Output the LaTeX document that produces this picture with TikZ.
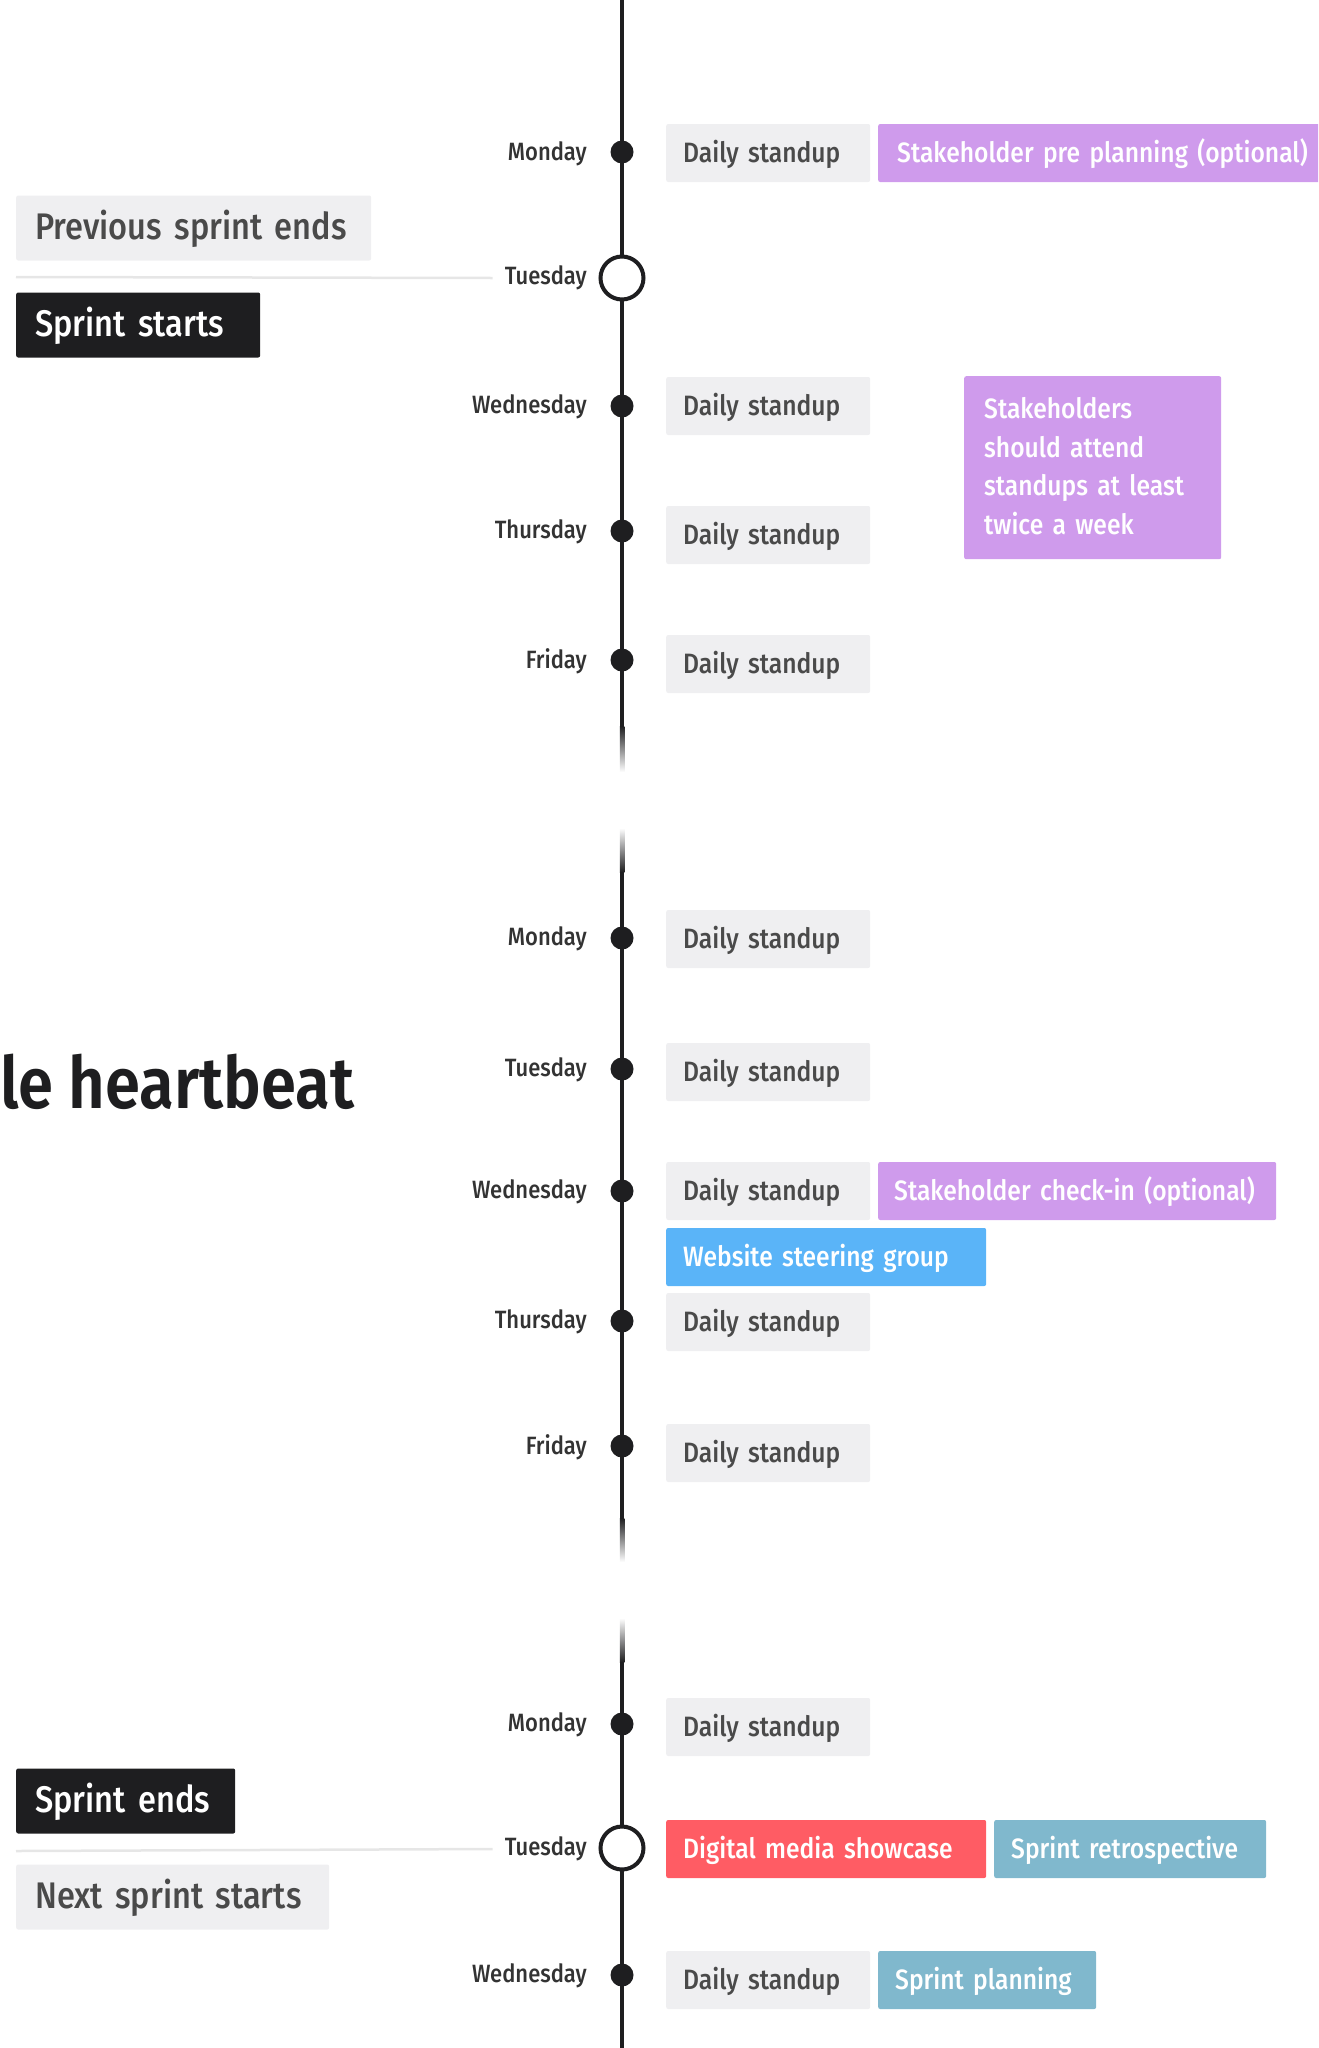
\documentclass[tikz,border=0pt]{standalone}
\usepackage{fontspec}
\setmainfont{Fira Sans}[FakeStretch=0.88, UprightFont={* Medium}, BoldFont={* SemiBold}]
\definecolor{boxgray}{HTML}{EFEFF1}
\definecolor{txtgray}{HTML}{4A4A4A}
\definecolor{daytxt}{HTML}{333333}
\definecolor{purp}{HTML}{CF9BEC}
\definecolor{skyb}{HTML}{5AB4F8}
\definecolor{redc}{HTML}{FF5C64}
\definecolor{retro}{HTML}{80B8CD}
\definecolor{ink}{HTML}{1E1E20}
\definecolor{sepgray}{HTML}{E6E6E6}
\begin{document}
\begin{tikzpicture}[x=1pt,y=-1pt,
  evbox/.style={anchor=west, rounded corners=2pt, minimum height=58pt, inner xsep=17pt, inner ysep=0pt,
    font=\fontsize{28}{32}\selectfont, text height=22pt, text depth=4pt, align=left},
  standup/.style={evbox, fill=boxgray, text=txtgray, text width=170pt},
  purpbox/.style={evbox, fill=purp, text=white},
  bluebox/.style={evbox, fill=skyb, text=white},
  redbox/.style={evbox, fill=redc, text=white},
  retrobox/.style={evbox, fill=retro, text=white},
  bigbox/.style={anchor=west, rounded corners=2pt, minimum height=65pt, inner xsep=19pt, inner ysep=0pt,
    font=\fontsize{37}{42}\selectfont, text height=29pt, text depth=6pt, align=left},
  lightbig/.style={bigbox, fill=boxgray, text=txtgray},
  darkbig/.style={bigbox, fill=ink, text=white},
  daylabel/.style={anchor=east, font=\fontsize{25}{28}\selectfont, text=daytxt, inner sep=0pt},
  dayDot/.style={circle, fill=ink, minimum size=23pt, inner sep=0pt},
  sprintDot/.style={circle, fill=white, draw=ink, line width=4pt, minimum size=43pt, inner sep=0pt},
  sepline/.style={draw=sepgray, line width=2.5pt},
  tline/.style={line width=4.5pt, draw=ink}
]
\useasboundingbox (0,0) rectangle (1318,2048);
\clip (0,0) rectangle (1318,2048);

% timeline segments
\draw[tline] (622,0) -- (622,726);
\shade[top color=ink, bottom color=white] (619.75,726) rectangle (624.25,772);
\shade[top color=white, bottom color=ink] (619.75,828) rectangle (624.25,872);
\draw[tline] (622,872) -- (622,1518);
\shade[top color=ink, bottom color=white] (619.75,1518) rectangle (624.25,1562);
\shade[top color=white, bottom color=ink] (619.75,1618) rectangle (624.25,1662);
\draw[tline] (622,1662) -- (622,2048);

% ---- week 1
\node[dayDot] (w1mon) at (622,152) {};
\node[sprintDot] (w1tue) at (622,278) {};
\node[dayDot] (w1wed) at (622,406) {};
\node[dayDot] (w1thu) at (622,531) {};
\node[dayDot] (w1fri) at (622,660) {};
\node[daylabel] (l1mon) at (587,154) {Monday};
\node[daylabel] (l1tue) at (587,278) {Tuesday};
\node[daylabel] (l1wed) at (587,407) {Wednesday};
\node[daylabel] (l1thu) at (587,532) {Thursday};
\node[daylabel] (l1fri) at (587,661) {Friday};

\node[standup] (s1mon) at (666,153) {Daily standup};
\node[purpbox, text width=432pt, inner xsep=19pt] (prepl) at (878,153) {\mbox{Stakeholder pre planning (optional)}};
\node[standup] (s1wed) at (666,406) {Daily standup};
\node[standup] (s1thu) at (666,535) {Daily standup};
\node[standup] (s1fri) at (666,664) {Daily standup};
\node[anchor=north west, fill=purp, text=white, rounded corners=2pt, inner xsep=20pt, inner ysep=0pt,
  minimum height=183pt, text width=217pt, align=left, font=\fontsize{28}{38.5}\selectfont]
  (attend) at (964,376) {Stakeholders\\should attend\\standups at least\\twice a week\vspace{3pt}};

\node[lightbig, text width=317pt] (prevend) at (16,228) {Previous sprint ends};
\node[darkbig, text width=206pt] (sstart) at (16,325) {Sprint starts};
\coordinate (sep1) at (16,277);
\draw[sepline] (sep1) -- ([xshift=-12pt]l1tue.west);

% ---- week 2
\node[dayDot] (w2mon) at (622,938) {};
\node[dayDot] (w2tue) at (622,1069) {};
\node[dayDot] (w2wed) at (622,1191) {};
\node[dayDot] (w2thu) at (622,1321) {};
\node[dayDot] (w2fri) at (622,1446) {};
\node[daylabel] (l2mon) at (587,939) {Monday};
\node[daylabel] (l2tue) at (587,1070) {Tuesday};
\node[daylabel] (l2wed) at (587,1192) {Wednesday};
\node[daylabel] (l2thu) at (587,1322) {Thursday};
\node[daylabel] (l2fri) at (587,1447) {Friday};

\node[standup] (s2mon) at (666,939) {Daily standup};
\node[standup] (s2tue) at (666,1072) {Daily standup};
\node[standup] (s2wed) at (666,1191) {Daily standup};
\node[purpbox, text width=366pt, inner xsep=16pt] (checkin) at (878,1191) {\mbox{Stakeholder check-in (optional)}};
\node[bluebox, text width=286pt] (steer) at (666,1257) {Website steering group};
\node[standup] (s2thu) at (666,1322) {Daily standup};
\node[standup] (s2fri) at (666,1453) {Daily standup};

\node[anchor=west, inner sep=0pt, text=ink, font=\fontsize{72}{78}\bfseries\selectfont] (title) at (0,1082) {le heartbeat};

% ---- week 3
\node[dayDot] (w3mon) at (622,1724) {};
\node[sprintDot] (w3tue) at (622,1848) {};
\node[dayDot] (w3wed) at (622,1975) {};
\node[daylabel] (l3mon) at (587,1725) {Monday};
\node[daylabel] (l3tue) at (587,1849) {Tuesday};
\node[daylabel] (l3wed) at (587,1976) {Wednesday};

\node[standup] (s3mon) at (666,1727) {Daily standup};
\node[redbox, text width=286pt] (showcase) at (666,1849) {Digital media showcase};
\node[retrobox, text width=238pt] (retro) at (994,1849) {Sprint retrospective};
\node[standup] (s3wed) at (666,1980) {Daily standup};
\node[retrobox, text width=184pt] (planning) at (878,1980) {Sprint planning};

\node[darkbig, text width=181pt] (send) at (16,1801) {Sprint ends};
\node[lightbig, text width=275pt] (nstart) at (16,1897) {Next sprint starts};
\coordinate (sep3) at (16,1851);
\draw[sepline] (sep3) -- ([xshift=-12pt]l3tue.west);
\end{tikzpicture}
\end{document}
